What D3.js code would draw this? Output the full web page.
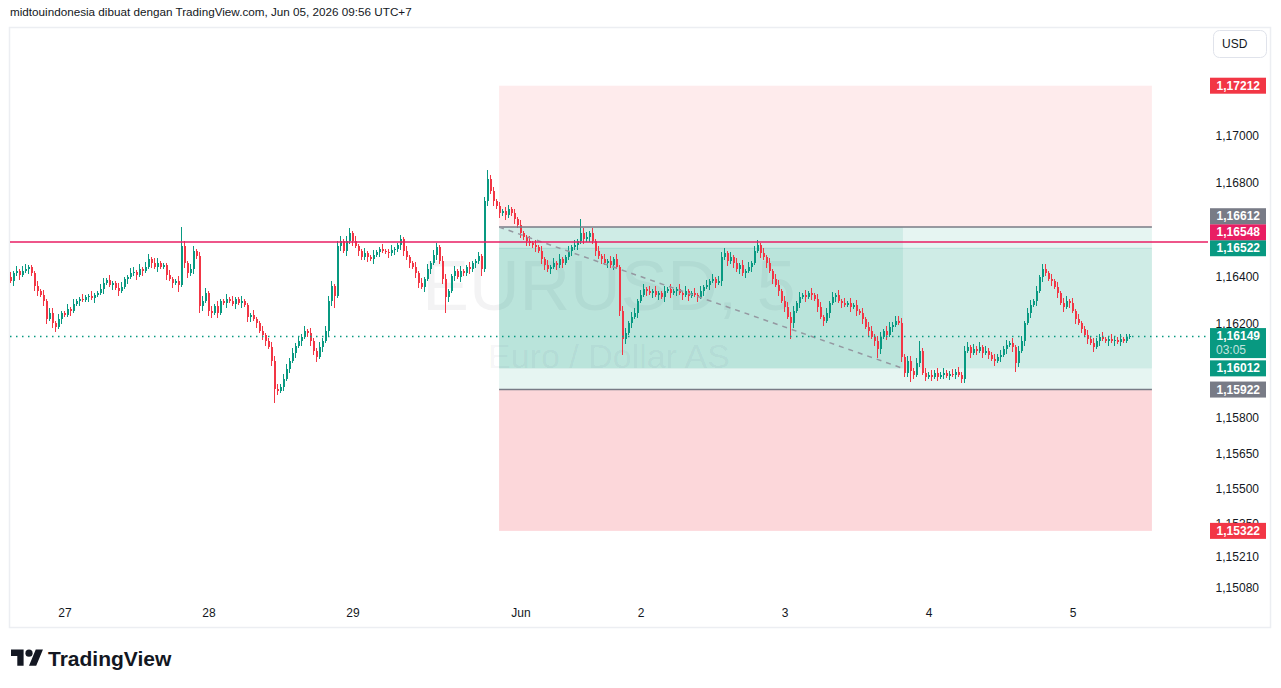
<!DOCTYPE html>
<html>
<head>
<meta charset="utf-8">
<script src="https://cdn.jsdelivr.net/npm/d3@7"></script>
<style>
  body { margin: 0; background: #ffffff; }
  svg { display: block; font-family: "Liberation Sans", Arial, sans-serif; }
</style>
</head>
<body>
<div id="plot"></div>
<script>
// EURUSD, candles of 30 min, May 26 15:00 -> Jun 05 09:30 (UTC+7)
var firstOpen = 1.16400;
var closes = [
  1.16383,1.16416,1.16425,1.16408,1.16425,1.16433,1.16442,1.16416,1.16361,1.16340,
  1.16323,1.16298,1.16222,1.16247,1.16205,1.16188,1.16222,1.16247,1.16239,1.16264,
  1.16256,1.16285,1.16298,1.16306,1.16302,1.16315,1.16319,1.16311,1.16323,1.16332,
  1.16349,1.16374,1.16387,1.16366,1.16374,1.16353,1.16340,1.16357,1.16391,1.16400,
  1.16416,1.16421,1.16408,1.16433,1.16425,1.16442,1.16476,1.16459,1.16442,1.16459,
  1.16442,1.16450,1.16408,1.16391,1.16374,1.16383,1.16366,1.16531,1.16459,1.16416,
  1.16433,1.16510,1.16488,1.16277,1.16298,1.16332,1.16256,1.16247,1.16277,1.16247,
  1.16298,1.16289,1.16306,1.16298,1.16285,1.16306,1.16289,1.16298,1.16281,1.16230,
  1.16239,1.16222,1.16205,1.16171,1.16154,1.16129,1.16103,1.16044,1.15926,1.15917,
  1.15934,1.15968,1.16011,1.16044,1.16078,1.16108,1.16129,1.16146,1.16171,1.16163,
  1.16129,1.16087,1.16061,1.16103,1.16129,1.16171,1.16298,1.16361,1.16319,1.16531,
  1.16552,1.16510,1.16552,1.16586,1.16552,1.16531,1.16510,1.16484,1.16501,1.16484,
  1.16476,1.16493,1.16505,1.16518,1.16510,1.16508,1.16501,1.16514,1.16518,1.16535,
  1.16560,1.16510,1.16484,1.16459,1.16442,1.16416,1.16374,1.16357,1.16391,1.16433,
  1.16459,1.16493,1.16526,1.16467,1.16391,1.16315,1.16340,1.16404,1.16425,1.16400,
  1.16425,1.16416,1.16442,1.16433,1.16459,1.16467,1.16488,1.16433,1.16721,1.16814,
  1.16763,1.16721,1.16700,1.16670,1.16679,1.16662,1.16687,1.16670,1.16645,1.16620,
  1.16586,1.16569,1.16552,1.16543,1.16535,1.16526,1.16510,1.16476,1.16450,1.16433,
  1.16442,1.16459,1.16450,1.16476,1.16459,1.16484,1.16510,1.16526,1.16535,1.16552,
  1.16586,1.16560,1.16569,1.16586,1.16552,1.16510,1.16488,1.16476,1.16459,1.16467,
  1.16450,1.16476,1.16442,1.16256,1.16137,1.16163,1.16205,1.16230,1.16247,1.16298,
  1.16323,1.16349,1.16340,1.16332,1.16340,1.16323,1.16332,1.16315,1.16340,1.16349,
  1.16332,1.16340,1.16349,1.16332,1.16323,1.16340,1.16319,1.16332,1.16323,1.16315,
  1.16340,1.16357,1.16366,1.16383,1.16391,1.16374,1.16383,1.16484,1.16501,1.16467,
  1.16484,1.16459,1.16433,1.16450,1.16416,1.16425,1.16442,1.16459,1.16510,1.16535,
  1.16501,1.16484,1.16459,1.16425,1.16391,1.16366,1.16340,1.16298,1.16273,1.16230,
  1.16205,1.16256,1.16289,1.16315,1.16323,1.16315,1.16332,1.16323,1.16306,1.16273,
  1.16230,1.16213,1.16247,1.16289,1.16315,1.16323,1.16298,1.16289,1.16281,1.16289,
  1.16273,1.16281,1.16256,1.16247,1.16222,1.16188,1.16171,1.16146,1.16129,1.16095,
  1.16146,1.16171,1.16154,1.16188,1.16197,1.16213,1.16205,1.16061,1.15994,1.16044,
  1.16002,1.15985,1.16036,1.16087,1.15994,1.15977,1.15985,1.15977,1.15994,1.15977,
  1.15985,1.15994,1.15981,1.15989,1.15985,1.15998,1.15985,1.15968,1.16087,1.16103,
  1.16078,1.16095,1.16087,1.16103,1.16078,1.16087,1.16070,1.16053,1.16044,1.16061,
  1.16070,1.16095,1.16112,1.16120,1.16103,1.16036,1.16087,1.16129,1.16205,1.16247,
  1.16281,1.16298,1.16340,1.16400,1.16433,1.16416,1.16391,1.16383,1.16357,1.16332,
  1.16289,1.16273,1.16298,1.16289,1.16256,1.16222,1.16205,1.16180,1.16154,1.16137,
  1.16120,1.16103,1.16129,1.16146,1.16137,1.16129,1.16137,1.16129,1.16133,1.16125,
  1.16137,1.16129,1.16146,1.16149
];
// wick lengths in pips, above and below the body
var wickUp = [
  2,1,2,1,2,2,1,1,1,2,1,2,1,2,2,1,2,1,1,2,
  1,2,1,1,2,1,1,2,1,1,2,2,1,2,1,1,2,2,1,1,
  2,2,1,2,1,2,2,1,2,2,1,1,1,2,1,1,2,8,2,1,
  2,2,1,2,2,2,1,2,1,2,1,1,2,1,2,1,1,2,1,1,
  1,2,1,1,2,1,1,2,2,2,1,2,2,1,2,1,2,1,2,1,
  2,1,1,2,1,2,2,2,1,2,2,1,2,2,1,2,1,1,2,1,
  1,2,1,1,2,1,1,2,1,1,2,1,2,1,1,2,1,2,1,2,
  1,2,2,1,2,2,1,1,2,1,2,1,1,2,1,1,2,1,2,4,
  2,2,1,2,1,2,2,1,2,1,2,1,1,2,1,2,1,2,1,2,
  1,2,1,2,1,1,2,1,2,1,6,2,2,1,2,1,2,1,2,1,
  2,1,2,1,2,2,1,2,2,1,2,2,1,2,1,2,1,1,2,1,
  2,1,1,2,1,2,1,1,2,1,2,1,2,1,2,1,2,2,2,1,
  2,1,2,1,2,1,2,1,2,2,1,2,1,2,1,2,2,1,2,2,
  2,2,1,2,1,2,1,2,1,2,2,1,2,1,2,1,2,1,2,1,
  2,1,2,1,2,1,2,2,1,2,2,1,2,2,1,2,2,2,1,2,
  2,1,2,4,1,2,1,2,1,2,1,2,1,1,2,1,2,1,2,2,
  1,2,1,2,1,2,1,1,2,1,2,1,2,1,2,1,2,2,1,2,
  2,1,2,1,2,2,1,2,1,2,1,2,2,1,2,1,2,1,1,2,
  1,2,1,1,2,1,1,2,1,1,2,1,1,1
];
var wickDn = [
  1,2,1,2,1,1,2,1,2,2,1,2,2,1,2,2,1,2,1,1,
  2,1,1,2,1,1,2,1,2,1,1,2,1,1,2,1,2,1,1,2,
  1,1,2,1,2,1,1,2,1,2,1,1,2,1,2,1,3,1,2,2,
  1,2,1,3,2,1,2,2,1,2,1,1,2,1,1,2,1,2,1,2,
  2,1,2,1,2,2,1,2,6,2,1,2,1,2,1,2,1,2,1,2,
  2,2,2,1,2,1,2,2,5,1,2,1,2,1,2,1,2,1,1,2,
  1,2,1,2,1,1,2,1,2,1,2,2,1,2,1,2,2,1,2,1,
  2,1,2,1,2,7,2,1,2,1,2,1,1,2,1,2,1,3,1,2,
  1,2,1,2,1,2,1,1,2,1,2,1,2,1,1,2,1,2,2,1,
  2,1,2,1,2,1,1,2,1,2,1,2,1,2,1,2,1,2,1,2,
  1,2,1,2,7,2,1,2,1,2,1,1,2,1,2,1,2,1,2,1,
  2,1,2,1,2,1,2,1,1,2,1,2,1,2,1,2,1,2,1,2,
  1,2,1,2,1,2,1,2,1,1,2,1,2,1,2,1,2,1,2,1,
  7,2,1,2,1,2,1,2,1,2,1,2,1,2,1,2,1,2,1,1,
  2,1,2,1,2,1,2,1,2,4,2,1,2,1,2,1,1,2,2,2,
  5,2,1,2,1,2,1,2,1,2,1,2,1,2,1,2,1,2,2,1,
  2,1,2,1,2,1,2,1,2,1,2,1,2,1,2,4,2,1,2,1,
  2,1,2,1,2,1,1,2,1,2,1,2,1,2,1,2,1,2,1,2,
  1,2,1,2,1,1,2,1,2,1,2,1,1,1
];

// time axis: label and candle index of the first bar of that day
var dayLabels = ["27", "28", "29", "Jun", "2", "3", "4", "5"];
var dayIndex = [18, 66, 114, 170, 210, 258, 306, 354];

// price axis ticks
var priceTicks = [1.17000, 1.16800, 1.16400, 1.16200, 1.15800, 1.15650, 1.15500, 1.15350, 1.15210, 1.15080];

// drawings (long / short position tools and a rectangle)
var stopHigh = 1.17212;
var entryShort = 1.16612;
var entryLong = 1.15922;
var stopLow = 1.15322;
var rectTop = 1.16522;
var rectBottom = 1.16012;
var hLevel = 1.16548;
var lastPrice = 1.16149;
var countdown = "03:05";
var toolStart = 162.7;   // candle index where the tools begin
var toolEnd = 380.3;
var progressEnd = 297.3;

// price labels on the right scale
var labelPrices = [stopHigh, entryShort, hLevel, rectTop, lastPrice, rectBottom, entryLong, stopLow];
var labelColors = ["#f23645", "#787b86", "#e91e63", "#089981", "#089981", "#089981", "#787b86", "#f23645"];

var pip = 0.0001;
var width = 1281;
var height = 688;
var pane = {left: 10, right: 1208, top: 28, bottom: 598};

if (closes.length != wickUp.length || closes.length != wickDn.length) {
  throw new Error("length mismatch " + closes.length + " " + wickUp.length + " " + wickDn.length);
}

function fmt(p) {
  return d3.format(".5f")(p).replace(".", ",");
}

var svg = d3.select("#plot")
  .append("svg")
  .attr("width", width)
  .attr("height", height);

svg.append("rect").attr("width", width).attr("height", height).attr("fill", "#ffffff");

var x = d3.scaleLinear().domain([0, closes.length - 1]).range([11, 1130]);
var y = d3.scaleLinear().domain([1.15037, 1.17457]).range([pane.bottom, pane.top]);

// header
svg.append("text")
  .attr("x", 10)
  .attr("y", 16)
  .attr("font-size", 11.7)
  .attr("fill", "#131722")
  .text("midtouindonesia dibuat dengan TradingView.com, Jun 05, 2026 09:56 UTC+7");

// frame
svg.append("rect")
  .attr("x", 9.5).attr("y", 27.5)
  .attr("width", 1261).attr("height", 600)
  .attr("fill", "none")
  .attr("stroke", "#eceef2")
  .attr("stroke-width", 1.5);

svg.append("defs").append("clipPath").attr("id", "paneClip")
  .append("rect")
  .attr("x", pane.left).attr("y", pane.top)
  .attr("width", pane.right - pane.left).attr("height", pane.bottom - pane.top);

var chart = svg.append("g").attr("clip-path", "url(#paneClip)");

// watermark
var midX = (pane.left + pane.right) / 2;
chart.append("text")
  .attr("x", midX).attr("y", 310)
  .attr("text-anchor", "middle")
  .attr("font-size", 70)
  .attr("fill", "rgba(19,23,34,0.05)")
  .text("EURUSD, 5");
chart.append("text")
  .attr("x", midX).attr("y", 368)
  .attr("text-anchor", "middle")
  .attr("font-size", 34)
  .attr("fill", "rgba(19,23,34,0.05)")
  .text("Euro / Dollar AS");

// position tools
function zone(x0, x1, p0, p1, fill) {
  chart.append("rect")
    .attr("x", x(x0))
    .attr("y", y(Math.max(p0, p1)))
    .attr("width", x(x1) - x(x0))
    .attr("height", Math.abs(y(p0) - y(p1)))
    .attr("fill", fill);
}
zone(toolStart, toolEnd, stopHigh, entryShort, "rgba(242,54,69,0.1)");
zone(toolStart, toolEnd, entryShort, entryLong, "rgba(8,153,129,0.1)");
zone(toolStart, toolEnd, entryLong, stopLow, "rgba(242,54,69,0.2)");
zone(toolStart, progressEnd, entryShort, rectBottom, "rgba(8,153,129,0.1)");
zone(toolStart, toolEnd, rectTop, rectBottom, "rgba(8,153,129,0.1)");

chart.append("line")
  .attr("x1", x(toolStart)).attr("x2", x(toolEnd))
  .attr("y1", y(rectTop)).attr("y2", y(rectTop))
  .attr("stroke", "rgba(8,153,129,0.15)")
  .attr("stroke-width", 1);

// candles
var candles = closes.map((c, i) => {
  var o = i == 0 ? firstOpen : closes[i - 1];
  return {
    i: i,
    open: o,
    close: c,
    high: Math.max(o, c) + wickUp[i] * pip,
    low: Math.min(o, c) - wickDn[i] * pip
  };
});

var candleGroup = chart.append("g").attr("shape-rendering", "crispEdges");
candleGroup.selectAll(".wick")
  .data(candles)
  .enter()
  .append("rect")
  .attr("class", "wick")
  .attr("x", d => Math.round(x(d.i)) - 1)
  .attr("y", d => y(d.high))
  .attr("width", 1)
  .attr("height", d => y(d.low) - y(d.high))
  .attr("fill", d => d.close >= d.open ? "#089981" : "#f23645");

candleGroup.selectAll(".body")
  .data(candles)
  .enter()
  .append("rect")
  .attr("class", "body")
  .attr("x", d => Math.round(x(d.i)) - 1)
  .attr("y", d => y(Math.max(d.open, d.close)))
  .attr("width", 2)
  .attr("height", d => Math.max(1, Math.abs(y(d.open) - y(d.close))))
  .attr("fill", d => d.close >= d.open ? "#089981" : "#f23645");

// position tool borders and path
[entryShort, entryLong].forEach(p => {
  chart.append("line")
    .attr("x1", x(toolStart)).attr("x2", x(toolEnd))
    .attr("y1", y(p)).attr("y2", y(p))
    .attr("stroke", "#787b86")
    .attr("stroke-width", 1.5);
});

chart.append("line")
  .attr("x1", x(toolStart)).attr("y1", y(entryShort))
  .attr("x2", x(progressEnd)).attr("y2", y(rectBottom))
  .attr("stroke", "#9598a1")
  .attr("stroke-width", 1.5)
  .attr("stroke-dasharray", "5,5");

// horizontal line and last price line
chart.append("line")
  .attr("x1", pane.left).attr("x2", pane.right)
  .attr("y1", y(hLevel)).attr("y2", y(hLevel))
  .attr("stroke", "#e91e63")
  .attr("stroke-width", 1.5);

chart.append("line")
  .attr("x1", pane.left).attr("x2", pane.right)
  .attr("y1", Math.round(y(lastPrice)) + 0.5).attr("y2", Math.round(y(lastPrice)) + 0.5)
  .attr("stroke", "#089981")
  .attr("stroke-width", 1.5)
  .attr("stroke-dasharray", "1.5,4.5");

// time axis
svg.append("g").selectAll("text")
  .data(dayLabels)
  .enter()
  .append("text")
  .attr("x", (d, i) => x(dayIndex[i]))
  .attr("y", 617)
  .attr("text-anchor", "middle")
  .attr("font-size", 12)
  .attr("fill", "#131722")
  .text(d => d);

// price axis ticks
svg.append("g").selectAll("text")
  .data(priceTicks)
  .enter()
  .append("text")
  .attr("x", 1259)
  .attr("y", d => y(d) + 4)
  .attr("text-anchor", "end")
  .attr("font-size", 12)
  .attr("fill", "#131722")
  .text(d => fmt(d));

// currency button
svg.append("rect")
  .attr("x", 1213.5).attr("y", 30.5)
  .attr("width", 53).attr("height", 27)
  .attr("rx", 6)
  .attr("fill", "#ffffff")
  .attr("stroke", "#e0e3eb");
svg.append("text")
  .attr("x", 1222).attr("y", 48)
  .attr("font-size", 12)
  .attr("fill", "#131722")
  .text("USD");

// price labels, pushed up when they overlap
var labels = labelPrices.map((p, i) => ({
  price: p,
  color: labelColors[i],
  h: p == lastPrice ? 30 : 16
}));
labels.sort((a, b) => a.price - b.price);
var limit = Infinity;
labels.forEach(l => {
  var top = y(l.price) - 8;
  if (top + l.h > limit) {
    top = limit - l.h;
  }
  l.top = top;
  limit = top;
});

var labelGroup = svg.append("g");
labels.forEach(l => {
  labelGroup.append("rect")
    .attr("x", 1210).attr("y", l.top)
    .attr("width", 56).attr("height", l.h)
    .attr("fill", l.color);
  labelGroup.append("text")
    .attr("x", 1260).attr("y", l.top + 12)
    .attr("text-anchor", "end")
    .attr("font-size", 12)
    .attr("font-weight", "bold")
    .attr("fill", "#ffffff")
    .text(fmt(l.price));
  if (l.price == lastPrice) {
    labelGroup.append("text")
      .attr("x", 1246).attr("y", l.top + 26)
      .attr("text-anchor", "end")
      .attr("font-size", 12)
      .attr("fill", "rgba(255,255,255,0.75)")
      .text(countdown);
  }
});

// TradingView logo
var logo = svg.append("g").attr("transform", "translate(11,646) scale(0.9)");
logo.append("path")
  .attr("d", "M14 22H7V11H0V4h14v18zM28 22h-8l7.5-18h8L28 22z")
  .attr("fill", "#131722");
logo.append("circle").attr("cx", 20).attr("cy", 8).attr("r", 4).attr("fill", "#131722");
svg.append("text")
  .attr("x", 48).attr("y", 666)
  .attr("font-size", 21)
  .attr("font-weight", "bold")
  .attr("fill", "#131722")
  .text("TradingView");
</script>
</body>
</html>
